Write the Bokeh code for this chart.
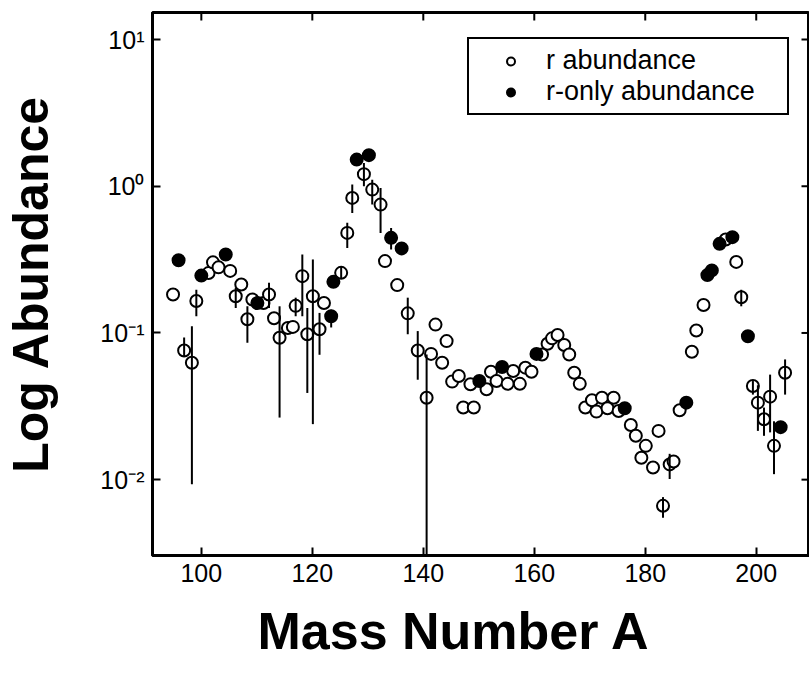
import math
from bokeh.plotting import figure
from bokeh.models import (Range1d, FixedTicker, Title, Legend, LegendItem, CustomJSTickFormatter)
from bokeh.embed import file_html
from bokeh.resources import INLINE

# ---- data ----
open_A = [94.9, 96.9, 98.3, 99.1, 101.3, 102.1, 103.1, 105.2, 106.2, 107.2, 108.3, 109.2,
          111.2, 112.2, 113.1, 114.1, 115.6, 116.5, 117.0, 118.2, 119.1, 120.1, 121.3, 122.1,
          125.2, 126.3, 127.2, 129.3, 130.8, 132.3, 133.1, 135.3, 137.2, 139.0, 140.6, 141.4,
          142.2, 143.4, 144.2, 145.2, 146.4, 147.2, 148.5, 149.1, 151.4, 152.2, 153.2, 155.2,
          156.2, 157.4, 158.4, 159.5, 161.4, 162.4, 163.2, 164.2, 165.4, 166.3, 167.2, 168.2,
          169.2, 170.4, 171.2, 172.2, 173.2, 174.3, 175.2, 177.4, 178.3, 179.3, 180.1, 181.4,
          182.4, 183.2, 184.4, 185.1, 186.2, 188.4, 189.2, 190.5, 194.5, 196.4, 197.3, 199.4,
          200.3, 201.4, 202.5, 203.2, 205.2]
open_y = [0.183, 0.076, 0.0627, 0.165, 0.256, 0.303, 0.28, 0.265, 0.178, 0.214, 0.124, 0.169,
          0.16, 0.183, 0.126, 0.0927, 0.108, 0.11, 0.153, 0.244, 0.098, 0.178, 0.106, 0.16,
          0.257, 0.481, 0.833, 1.21, 0.949, 0.75, 0.309, 0.212, 0.136, 0.076, 0.0362, 0.072,
          0.114, 0.0627, 0.088, 0.0466, 0.0509, 0.031, 0.0447, 0.031, 0.0413, 0.0544, 0.047, 0.045,
          0.055, 0.045, 0.058, 0.0544, 0.0713, 0.0845, 0.0919, 0.0968, 0.0827, 0.0713, 0.0536, 0.045,
          0.031, 0.0348, 0.0291, 0.0362, 0.0307, 0.0362, 0.0294, 0.0236, 0.0199, 0.0141, 0.017, 0.0121,
          0.0215, 0.00663, 0.0127, 0.0133, 0.0297, 0.0745, 0.104, 0.155, 0.434, 0.305, 0.175, 0.0435,
          0.0335, 0.0258, 0.0368, 0.017, 0.0536]

only_A = [95.9, 100.0, 104.4, 110.1, 123.4, 123.8, 128.0, 130.2, 134.2, 136.1, 150.1, 154.2,
          160.4, 176.3, 187.4, 191.2, 192.0, 193.4, 195.7, 198.5, 204.4]
only_y = [0.313, 0.246, 0.343, 0.16, 0.130, 0.223, 1.52, 1.63, 0.445, 0.377, 0.047, 0.0586,
          0.072, 0.0307, 0.0335, 0.248, 0.267, 0.405, 0.45, 0.095, 0.0228]

err_A = [96.9, 98.3, 99.1, 106.2, 108.3, 112.2, 114.1, 117.0, 118.2, 119.1, 120.1, 121.3,
         123.4, 125.2, 126.3, 127.2, 129.3, 130.8, 132.3, 134.2, 137.2, 139.0, 140.6,
         183.2, 184.4, 197.3, 199.4, 200.3, 201.4, 202.5, 203.2, 205.2]
err_lo = [0.0694, 0.0093, 0.130, 0.148, 0.0858, 0.148, 0.0265, 0.130, 0.130, 0.039, 0.0239, 0.071,
          0.109, 0.237, 0.38, 0.658, 1.0, 0.75, 0.48, 0.37, 0.098, 0.048, 0.001,
          0.0055, 0.0101, 0.152, 0.038, 0.0215, 0.0199, 0.021, 0.0109, 0.038]
err_hi = [0.093, 0.111, 0.197, 0.203, 0.152, 0.22, 0.152, 0.174, 0.343, 0.148, 0.317, 0.137,
          0.144, 0.285, 0.563, 1.03, 1.44, 1.11, 0.974, 0.52, 0.174, 0.103, 0.0713,
          0.0076, 0.015, 0.197, 0.047, 0.044, 0.031, 0.052, 0.025, 0.066]

x_ticks = [100, 120, 140, 160, 180, 200]
y_ticks = [0.01, 0.1, 1, 10]
x_lim = (91.2, 209.6)
y_lim = (0.00304, 15.3)

FONT = "Liberation Sans"

p = figure(width=809, height=675, y_axis_type="log",
           x_range=Range1d(*x_lim), y_range=Range1d(*y_lim),
           output_backend="svg", toolbar_location=None,
           min_border_left=152, min_border_right=0, min_border_top=12, min_border_bottom=120)
p.grid.visible = False
p.outline_line_color = "black"
p.outline_line_width = 3
p.background_fill_color = "white"
p.border_fill_color = "white"

for ax in (p.xaxis[0], p.yaxis[0]):
    ax.axis_line_width = 3
    ax.axis_line_color = "black"
    ax.major_tick_in = 8
    ax.major_tick_out = 0
    ax.major_tick_line_width = 2
    ax.minor_tick_line_color = None
    ax.major_label_text_font = FONT
    ax.major_label_text_font_size = "25px"
    ax.major_label_text_color = "black"
    ax.major_label_standoff = 8

p.xaxis.ticker = FixedTicker(ticks=x_ticks, minor_ticks=[])
p.yaxis.ticker = FixedTicker(ticks=y_ticks, minor_ticks=[])
p.yaxis.formatter = CustomJSTickFormatter(code="""
const e = Math.round(Math.log10(tick));
const sup = {"0":"\u2070","1":"\u00b9","2":"\u00b2","3":"\u00b3","-":"\u207b"};
return "10" + String(e).split("").map(c => sup[c]).join("");
""")
p.yaxis.axis_label = "Log Abundance"
p.yaxis.axis_label_text_font = FONT
p.yaxis.axis_label_text_font_style = "bold"
p.yaxis.axis_label_text_font_size = "50px"
p.yaxis.axis_label_text_color = "black"
p.yaxis.axis_label_standoff = 38

# inward ticks on the top and right frame edges
p.ray(x=x_ticks, y=[y_lim[1]] * len(x_ticks), length=8, angle=-math.pi / 2,
      length_units="screen", line_color="black", line_width=2)
p.ray(x=[x_lim[1]] * len(y_ticks), y=y_ticks, length=8, angle=math.pi,
      length_units="screen", line_color="black", line_width=2)

p.add_layout(Title(text="Mass Number A", align="left", offset=105, text_font=FONT,
                   text_font_style="bold", text_font_size="52px", text_color="black",
                   text_line_height=0.7, vertical_align="bottom", standoff=30), "below")

r_open = p.scatter(open_A, open_y, marker="circle", size=12, line_color="black",
                   line_width=2, fill_color="white")
r_fill = p.scatter(only_A, only_y, marker="circle", size=12, line_color="black",
                   line_width=2, fill_color="black")
p.segment(x0=err_A, y0=err_lo, x1=err_A, y1=err_hi, line_color="black", line_width=2)

legend = Legend(items=[LegendItem(label="r abundance", renderers=[r_open]),
                       LegendItem(label="r-only abundance", renderers=[r_fill])],
                location=(315, 440), margin=0, padding=6, spacing=0,
                glyph_width=71, glyph_height=20, label_standoff=0, label_width=235,
                label_height=30, label_text_font=FONT, label_text_font_size="27px",
                label_text_color="black",
                border_line_color="black", border_line_width=2, border_line_alpha=1,
                background_fill_color="white", background_fill_alpha=1)
p.add_layout(legend)

open("out.html", "w").write(file_html(p, INLINE))
